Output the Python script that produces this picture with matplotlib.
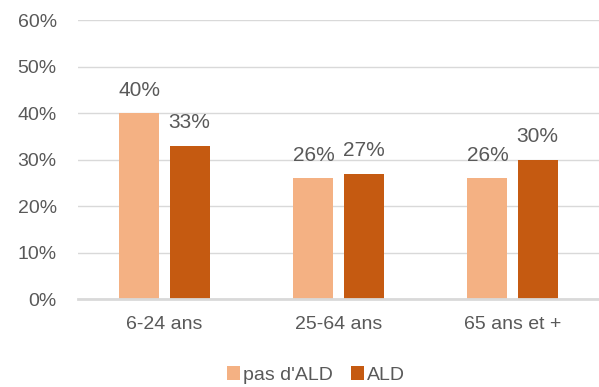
import numpy as np
import matplotlib.pyplot as plt

plt.rcParams['font.family'] = ['Liberation Sans', 'DejaVu Sans']

groupes = ['6-24 ans', '25-64 ans', '65 ans et +']
pas_ald = [40, 26, 26]
ald = [33, 27, 30]
series = ["pas d'ALD", 'ALD']
couleurs = ['#F4B183', '#C55A11']
gris = '#595959'

fig = plt.figure(figsize=(5.99, 3.87), dpi=100)
ax = fig.add_axes([77.5 / 599, 87.7 / 387, 522 / 599, 279 / 387])

x = np.arange(len(groupes))
largeur = 0.23
ecart = 0.144

for vals, dx, coul, nom in [(pas_ald, -ecart, couleurs[0], series[0]),
                            (ald, ecart, couleurs[1], series[1])]:
    barres = ax.bar(x + dx, vals, width=largeur, color=coul, label=nom, zorder=3)
    for b, v in zip(barres, vals):
        ax.annotate(f'{v}%', (b.get_x() + b.get_width() / 2, v),
                    xytext=(0, 16.5), textcoords='offset points',
                    ha='center', va='center', fontsize=15, color=gris)

ax.set_xlim(-0.5, 2.5)
ax.set_ylim(0, 60)
ax.set_yticks(range(0, 61, 10))
ax.set_yticklabels([f'{t}%' for t in range(0, 61, 10)])
ax.set_xticks(x)
ax.set_xticklabels(groupes)
ax.tick_params(axis='both', length=0, labelsize=14, labelcolor=gris)
ax.tick_params(axis='y', pad=15)
ax.tick_params(axis='x', pad=12)

ax.grid(axis='y', color='#D9D9D9', linewidth=1.0, zorder=0)
for s in ['top', 'right', 'left']:
    ax.spines[s].set_visible(False)
ax.spines['bottom'].set_color('#D9D9D9')
ax.spines['bottom'].set_linewidth(2)
ax.spines['bottom'].set_zorder(4)

leg = fig.legend(loc='center', bbox_to_anchor=(316 / 599, 1 - 375 / 387), ncol=2,
                 frameon=False, fontsize=14, handlelength=0.7, handleheight=0.7,
                 handletextpad=0.15, columnspacing=0.9)
for t in leg.get_texts():
    t.set_color(gris)

fig.savefig('out.png', dpi=100)
